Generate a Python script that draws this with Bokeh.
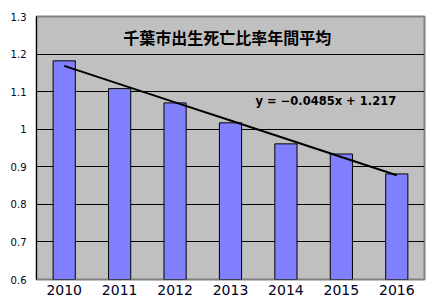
from bokeh.plotting import figure
from bokeh.models import Range1d, FixedTicker, ColumnDataSource
from bokeh.core.properties import value
from bokeh.embed import file_html
from bokeh.resources import INLINE

years = ["2010", "2011", "2012", "2013", "2014", "2015", "2016"]
ratios = [1.182, 1.108, 1.070, 1.017, 0.961, 0.934, 0.881]
y_ticks = [0.6, 0.7, 0.8, 0.9, 1.0, 1.1, 1.2, 1.3]
y_tick_labels = ["0.6", "0.7", "0.8", "0.9", "1", "1.1", "1.2", "1.3"]
trend_slope = -0.0485
trend_intercept = 1.217
title_text = "千葉市出生死亡比率年間平均"
equation_text = "y = \u22120.0485x + 1.217"

xs = list(range(1, len(years) + 1))
trend_y = [trend_slope * x + trend_intercept for x in xs]

p = figure(width=432, height=304, output_backend="svg", toolbar_location=None,
           x_range=Range1d(0.5, len(years) + 0.5), y_range=Range1d(0.6, 1.3),
           min_border_left=36, min_border_right=8, min_border_top=16, min_border_bottom=25)
p.background_fill_color = "#C0C0C0"
p.border_fill_color = "white"
p.outline_line_color = "#808080"
p.outline_line_width = 2

src = ColumnDataSource(dict(x=xs, top=ratios))
p.vbar(x="x", top="top", bottom=0, width=0.4, source=src,
       fill_color="#8080FF", line_color="black", line_width=1)
p.line(xs, trend_y, line_color="black", line_width=2)

p.text(x=[3.94], y=[1.245], text=[title_text], text_font=value("Noto Sans CJK JP"),
       text_font_size="16px", text_font_style="bold", text_align="center",
       text_baseline="middle", text_color="black")
p.text(x=[5.72], y=[1.075], text=[equation_text], text_font=value("DejaVu Sans"),
       text_font_size="11.5px", text_font_style="bold", text_align="center",
       text_baseline="middle", text_color="black")

p.xgrid.grid_line_color = None
p.ygrid.grid_line_color = "black"
p.ygrid.grid_line_width = 1
p.ygrid.ticker = FixedTicker(ticks=y_ticks)

p.yaxis.ticker = FixedTicker(ticks=y_ticks)
p.yaxis.major_label_overrides = {t: l for t, l in zip(y_ticks, y_tick_labels)}
p.yaxis.major_tick_in = 0
p.yaxis.major_tick_out = 0
p.yaxis.minor_tick_line_color = None
p.yaxis.axis_line_color = "black"
p.yaxis.axis_line_width = 1
p.yaxis.major_label_text_font = "DejaVu Sans"
p.yaxis.major_label_text_font_size = "10px"
p.yaxis.major_label_text_color = "#000020"
p.yaxis.major_label_standoff = 10

p.xaxis.ticker = FixedTicker(ticks=xs)
p.xaxis.major_label_overrides = {x: y for x, y in zip(xs, years)}
p.xaxis.major_tick_in = 0
p.xaxis.major_tick_out = 0
p.xaxis.minor_tick_line_color = None
p.xaxis.axis_line_color = None
p.xaxis.major_label_text_font = "DejaVu Sans"
p.xaxis.major_label_text_font_size = "14px"
p.xaxis.major_label_text_color = "#000020"
p.xaxis.major_label_standoff = 5

open("out.html", "w").write(file_html(p, INLINE))
